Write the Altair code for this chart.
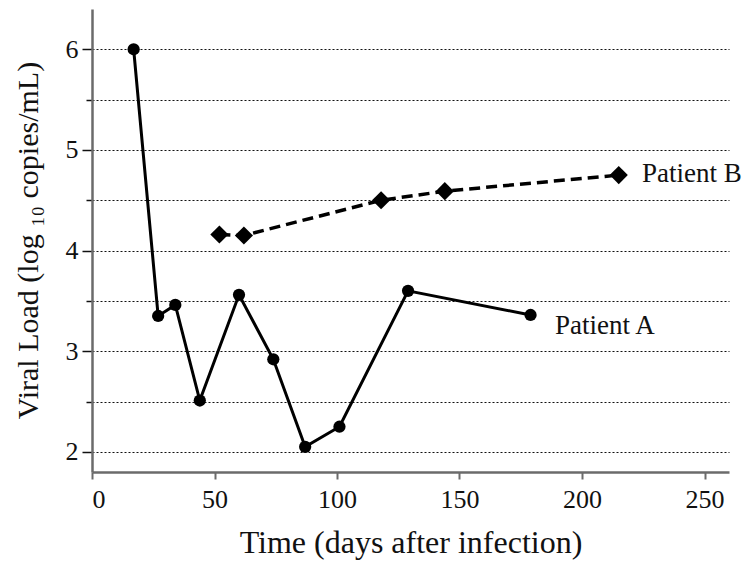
import altair as alt
import pandas as pd

# Patient A (circles, solid line)
a_days = [17, 27, 34, 44, 60, 74, 87, 101, 129, 179]
a_load = [6.0, 3.35, 3.46, 2.51, 3.56, 2.92, 2.05, 2.25, 3.6, 3.36]
# Patient B (diamonds, dashed line)
b_days = [52, 62, 118, 144, 215]
b_load = [4.16, 4.15, 4.5, 4.59, 4.75]

# Series labels
label_text = ["Patient A", "Patient B"]
label_x = [189, 224.5]
label_y = [3.25, 4.76]

x_ticks = [0, 50, 100, 150, 200, 250]
y_ticks = [2, 2.5, 3, 3.5, 4, 4.5, 5, 5.5, 6]

dfA = pd.DataFrame({"day": a_days, "load": a_load})
dfB = pd.DataFrame({"day": b_days, "load": b_load})
dfL = pd.DataFrame({"day": label_x, "load": label_y, "text": label_text})

FONT = "Liberation Serif"
AXIS_GRAY = "#6b6b6b"

x_enc = alt.X(
    "day:Q",
    scale=alt.Scale(domain=[0, 260], nice=False, zero=False),
    axis=alt.Axis(
        values=x_ticks,
        format="d",
        title="Time (days after infection)",
        grid=False,
        tickSize=7,
        tickColor=AXIS_GRAY,
        tickWidth=2,
        domainColor=AXIS_GRAY,
        domainWidth=2.5,
        labelFont=FONT,
        labelFontSize=26,
        labelColor="#111",
        labelPadding=7,
        titleFont=FONT,
        titleFontSize=32,
        titleFontWeight="normal",
        titleColor="#111",
        titleBaseline="alphabetic",
        titleY=80,
    ),
)

y_enc = alt.Y(
    "load:Q",
    scale=alt.Scale(domain=[1.8, 6.4], nice=False, zero=False),
    axis=alt.Axis(
        values=y_ticks,
        labelExpr="datum.value % 1 === 0 ? format(datum.value, 'd') : ''",
        title="Viral Load (log ₁₀ copies/mL)",
        grid=True,
        gridColor="#111",
        gridDash=[2, 2],
        gridWidth=1.2,
        tickSize={"condition": {"test": "datum.value % 1 === 0", "value": 10}, "value": 6},
        tickColor="#111",
        tickWidth=1.5,
        domainColor=AXIS_GRAY,
        domainWidth=2.5,
        labelFont=FONT,
        labelFontSize=26,
        labelColor="#111",
        labelPadding=4,
        titleFont=FONT,
        titleFontSize=30,
        titleFontWeight="normal",
        titleColor="#111",
        titleBaseline="alphabetic",
        titleX=-55,
        titleY=231,
    ),
)

lineA = alt.Chart(dfA).mark_line(color="black", strokeWidth=3).encode(x=x_enc, y=y_enc)
ptsA = alt.Chart(dfA).mark_point(shape="circle", filled=True, size=150, color="black", opacity=1).encode(x=x_enc, y=y_enc)
lineB = alt.Chart(dfB).mark_line(color="black", strokeWidth=3.5, strokeDash=[11, 6]).encode(x=x_enc, y=y_enc)
ptsB = alt.Chart(dfB).mark_point(shape="diamond", filled=True, size=330, color="black", opacity=1).encode(x=x_enc, y=y_enc)
labels = alt.Chart(dfL).mark_text(
    align="left", baseline="middle", font=FONT, fontSize=27, color="#111"
).encode(x=x_enc, y=y_enc, text="text:N")

chart = (
    alt.layer(lineA, ptsA, lineB, ptsB, labels)
    .properties(
        width=637,
        height=463,
        autosize=alt.AutoSizeParams(type="none"),
        padding={"left": 84, "top": 1, "right": 13, "bottom": 90},
        background="white",
    )
    .configure_view(strokeWidth=0)
)

chart.save("out.html", embed_options={"renderer": "svg", "actions": False})
